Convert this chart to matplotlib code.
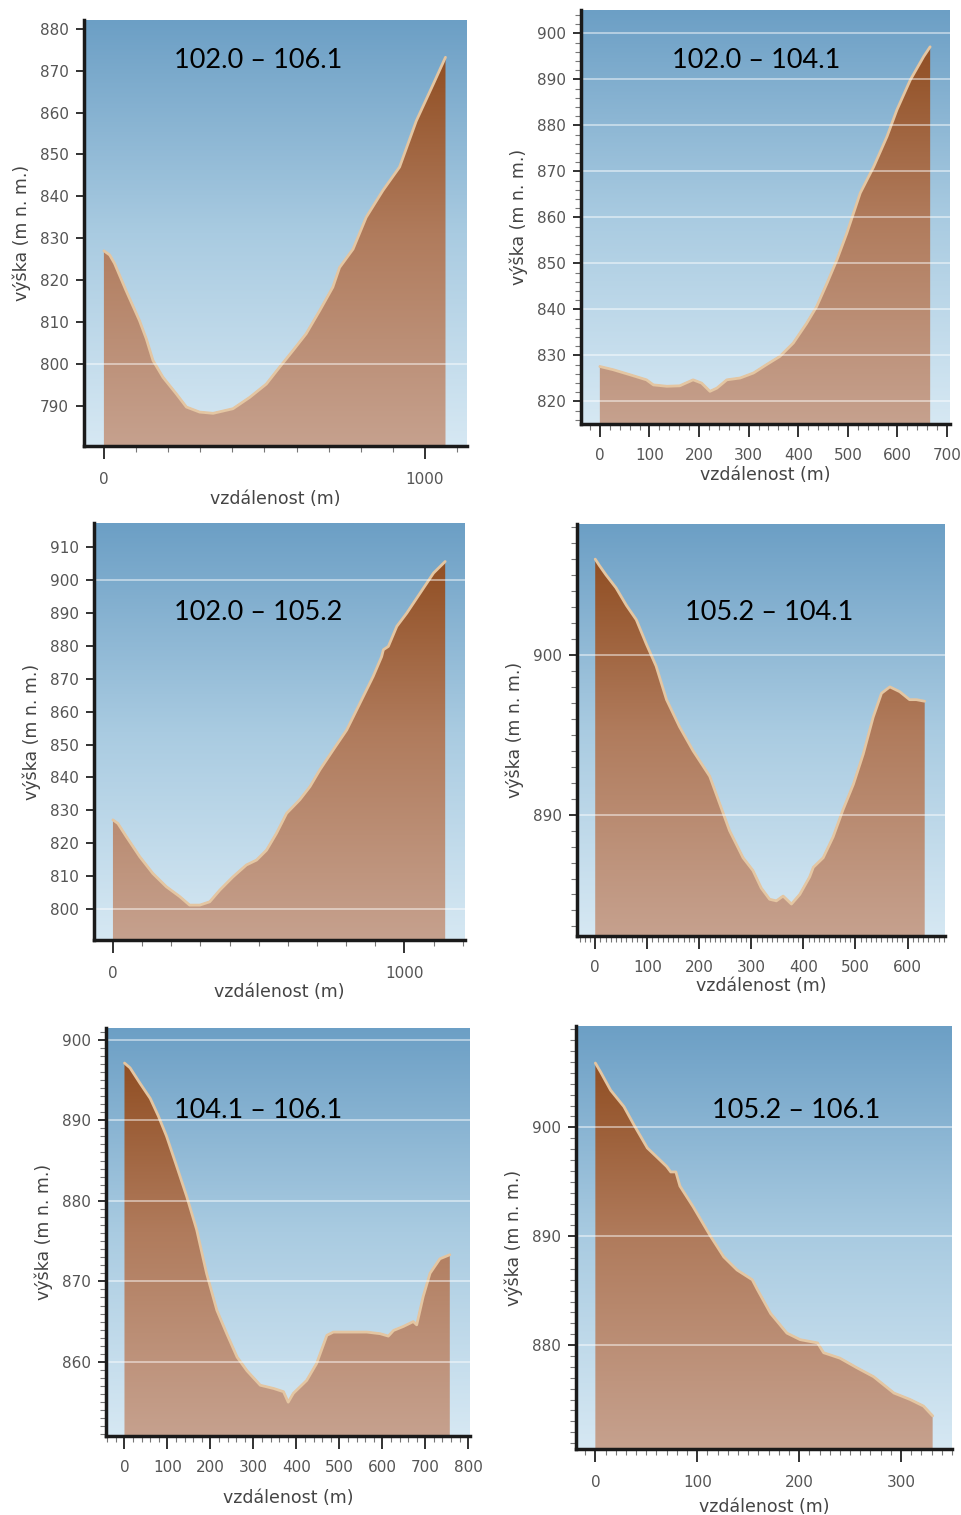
import numpy as np
import matplotlib
matplotlib.use("Agg")
import matplotlib.pyplot as plt
from matplotlib.colors import LinearSegmentedColormap
from matplotlib.ticker import MultipleLocator, FixedLocator

plt.rcParams["font.family"] = ["DejaVu Sans"]

# ---- data (vzdálenost m, výška m n. m.) ----
titles = ["102.0 – 106.1", "102.0 – 104.1", "102.0 – 105.2",
          "105.2 – 104.1", "104.1 – 106.1", "105.2 – 106.1"]

dist_1 = [0, 18, 33, 69, 111, 132, 153, 184, 226, 257, 298, 340, 402, 454, 506,
          547, 589, 630, 672, 713, 734, 776, 817, 869, 921, 973, 1026, 1064]
elev_1 = [827, 826, 824, 817.5, 810.3, 806, 800.8, 796.8, 792.8, 789.7, 788.5, 788.2,
          789.3, 792, 795.2, 799.2, 803.2, 807.2, 812.7, 818.3, 823, 827.4, 835,
          841.4, 847, 858, 866.8, 873.2]

dist_2 = [0, 27, 61, 94, 108, 135, 161, 188, 205, 222, 236, 256, 283, 310, 336, 363,
          390, 417, 437, 458, 478, 498, 525, 552, 579, 599, 626, 653, 666]
elev_2 = [827.6, 826.9, 825.8, 824.7, 823.6, 823.3, 823.4, 824.7, 824, 822.2, 822.9,
          824.7, 825.1, 826.2, 828, 829.8, 832.7, 837, 840.6, 845.7, 850.8, 856.6,
          865.3, 871, 877.6, 883.4, 889.9, 895, 897.1]

dist_3 = [0, 17, 46, 92, 137, 183, 229, 263, 298, 332, 367, 412, 458, 493, 527, 561,
          596, 641, 676, 710, 756, 802, 825, 859, 893, 922, 928, 945, 974, 1008, 1054,
          1100, 1140]
elev_3 = [827.1, 826, 822, 815.9, 810.8, 806.8, 803.8, 801.2, 801.2, 802.2, 805.8,
          809.8, 813.4, 814.9, 817.9, 823, 829.1, 833.2, 837.2, 842.3, 848.4, 854.4,
          858.5, 864.6, 870.7, 876.7, 878.8, 879.8, 885.9, 889.9, 896, 902.1, 905.6]

dist_4 = [0, 8, 21, 40, 60, 79, 98, 117, 137, 162, 188, 220, 239, 258, 284, 303, 319,
          335, 348, 361, 377, 393, 412, 419, 438, 457, 476, 496, 515, 534, 550, 566,
          585, 604, 617, 633]
elev_4 = [906, 905.6, 905, 904.2, 903.1, 902.2, 900.7, 899.3, 897.2, 895.5, 894,
          892.4, 890.7, 889, 887.3, 886.5, 885.4, 884.7, 884.6, 884.9, 884.4, 885,
          886.1, 886.7, 887.3, 888.6, 890.3, 891.9, 893.8, 896.1, 897.6, 898, 897.7,
          897.2, 897.2, 897.1]

dist_5 = [0, 13, 36, 60, 79, 98, 122, 145, 168, 191, 215, 238, 262, 285, 316, 347,
          370, 381, 393, 424, 447, 471, 486, 525, 564, 595, 614, 626, 649, 672, 680,
          695, 711, 734, 757]
elev_5 = [897.1, 896.5, 894.6, 892.7, 890.5, 888, 884.2, 880.5, 876.4, 871, 866.4,
          863.5, 860.6, 858.9, 857.1, 856.7, 856.3, 855, 856.1, 857.7, 859.8, 863.3,
          863.7, 863.7, 863.7, 863.5, 863.2, 863.9, 864.4, 865, 864.6, 868.1, 871,
          872.8, 873.3]

dist_6 = [0, 5, 15, 28, 38, 51, 60, 70, 74, 79, 83, 96, 113, 126, 139, 154, 159, 172,
          188, 201, 218, 224, 240, 257, 273, 293, 309, 322, 331]
elev_6 = [905.9, 905.1, 903.4, 901.9, 900.2, 898.1, 897.3, 896.4, 895.9, 895.9, 894.6,
          892.7, 890, 888.1, 886.9, 886, 885.1, 882.9, 881.1, 880.5, 880.2, 879.3,
          878.8, 877.9, 877.1, 875.6, 875, 874.4, 873.5]

xticks = [[0, 1000], list(range(0, 701, 100)), [0, 1000],
          list(range(0, 601, 100)), list(range(0, 801, 100)), [0, 100, 200, 300]]
yticks = [list(range(790, 881, 10)), list(range(820, 901, 10)), list(range(800, 911, 10)),
          [890, 900], list(range(860, 901, 10)), [880, 890, 900]]
grid_y = [[800], list(range(820, 901, 10)), [800, 900],
          [890, 900], list(range(860, 901, 10)), [880, 890, 900]]

W, H = 962, 1515
# rámy v pixelech (left, top, right, bottom), rozsahy os, vedlejší tiky, pozice popisků
panels = [
    dict(box=(84, 20, 467, 446), xlim=(-62, 1131), ylim=(780.4, 882.1), mx=100, my=None,
         xl=53, xpad=13, tpos=(258, 61)),
    dict(box=(581, 10, 950, 424), xlim=(-38, 706), ylim=(815.1, 905.1), mx=20, my=2,
         xl=51, xpad=11, tpos=(756, 61)),
    dict(box=(94, 523, 465, 940), xlim=(-65, 1208), ylim=(790.6, 917.3), mx=100, my=None,
         xl=52, xpad=13, tpos=(258, 613)),
    dict(box=(577, 524, 945, 936), xlim=(-35, 672), ylim=(882.4, 908.2), mx=10, my=1,
         xl=50, xpad=11, tpos=(769, 613)),
    dict(box=(106, 1028, 470, 1436), xlim=(-43, 804), ylim=(850.8, 901.45), mx=20, my=1,
         xl=62, xpad=11, tpos=(258, 1110)),
    dict(box=(576, 1026, 952, 1449), xlim=(-19, 350), ylim=(870.46, 909.3), mx=10, my=1,
         xl=58, xpad=13, tpos=(796, 1110)),
]
dists = [dist_1, dist_2, dist_3, dist_4, dist_5, dist_6]
elevs = [elev_1, elev_2, elev_3, elev_4, elev_5, elev_6]

sky = LinearSegmentedColormap.from_list("sky", ["#d6e8f3", "#a9cbe1", "#6c9fc5"])
soil = LinearSegmentedColormap.from_list("soil", ["#c6a18e", "#b07b5c", "#8a4517"])
grad = np.linspace(0, 1, 256).reshape(-1, 1)

fig = plt.figure(figsize=(W / 100, H / 100), dpi=100)

for i, p in enumerate(panels):
    l, t, r, b = p["box"]
    ax = fig.add_axes([l / W, 1 - b / H, (r - l) / W, (b - t) / H])
    ax.set_xlim(*p["xlim"])
    ax.set_ylim(*p["ylim"])
    ax.set_autoscale_on(False)

    ax.imshow(grad, extent=[0, 1, 0, 1], transform=ax.transAxes, origin="lower",
              aspect="auto", cmap=sky, zorder=0)

    x = dists[i]
    y = elevs[i]
    y0 = p["ylim"][0]
    poly = ax.fill([x[0]] + x + [x[-1]], [y0] + y + [y0], facecolor="none",
                   edgecolor="none", zorder=1)[0]
    im = ax.imshow(grad, extent=[0, 1, 0, 1], transform=ax.transAxes, origin="lower",
                   aspect="auto", cmap=soil, zorder=1)
    im.set_clip_path(poly)
    ax.plot(x, y, color="#7a4a2a", lw=1.0, alpha=0.5, zorder=2)
    ax.plot(x, y, color="#e4c6a2", lw=2.0, zorder=3, solid_capstyle="round")

    for g in grid_y[i]:
        ax.axhline(g, color="white", lw=1.1, alpha=0.6, zorder=4)

    ax.text(p["tpos"][0] / W, 1 - p["tpos"][1] / H, titles[i], transform=fig.transFigure,
            ha="center", va="center", fontsize=19.5, family=["Lato", "DejaVu Sans"],
            color="black", zorder=5)

    for s in ["top", "right"]:
        ax.spines[s].set_visible(False)
    for s in ["left", "bottom"]:
        ax.spines[s].set_linewidth(2.5)
        ax.spines[s].set_color("#1a1a1a")
        ax.spines[s].set_zorder(6)

    ax.xaxis.set_major_locator(FixedLocator(xticks[i]))
    ax.yaxis.set_major_locator(FixedLocator(yticks[i]))
    ax.xaxis.set_minor_locator(MultipleLocator(p["mx"]))
    if p["my"]:
        ax.yaxis.set_minor_locator(MultipleLocator(p["my"]))
    ax.tick_params(axis="x", which="major", length=9, width=1.3, color="#222",
                   pad=p["xpad"] - 3, labelsize=11, labelcolor="#555")
    ax.tick_params(axis="y", which="major", length=6, width=1.3, color="#222",
                   pad=5, labelsize=11, labelcolor="#555")
    ax.tick_params(which="minor", length=4, width=0.8, color="#777")

    ax.set_xlabel("vzdálenost (m)", fontsize=12.5, color="#444", va="center")
    ax.xaxis.set_label_coords(0.5, -p["xl"] / (b - t))
    ax.set_ylabel("výška (m n. m.)", fontsize=12.5, color="#444", va="center")
    ax.yaxis.set_label_coords(-62 / (r - l), 0.5)

fig.savefig("out.png", dpi=100)
